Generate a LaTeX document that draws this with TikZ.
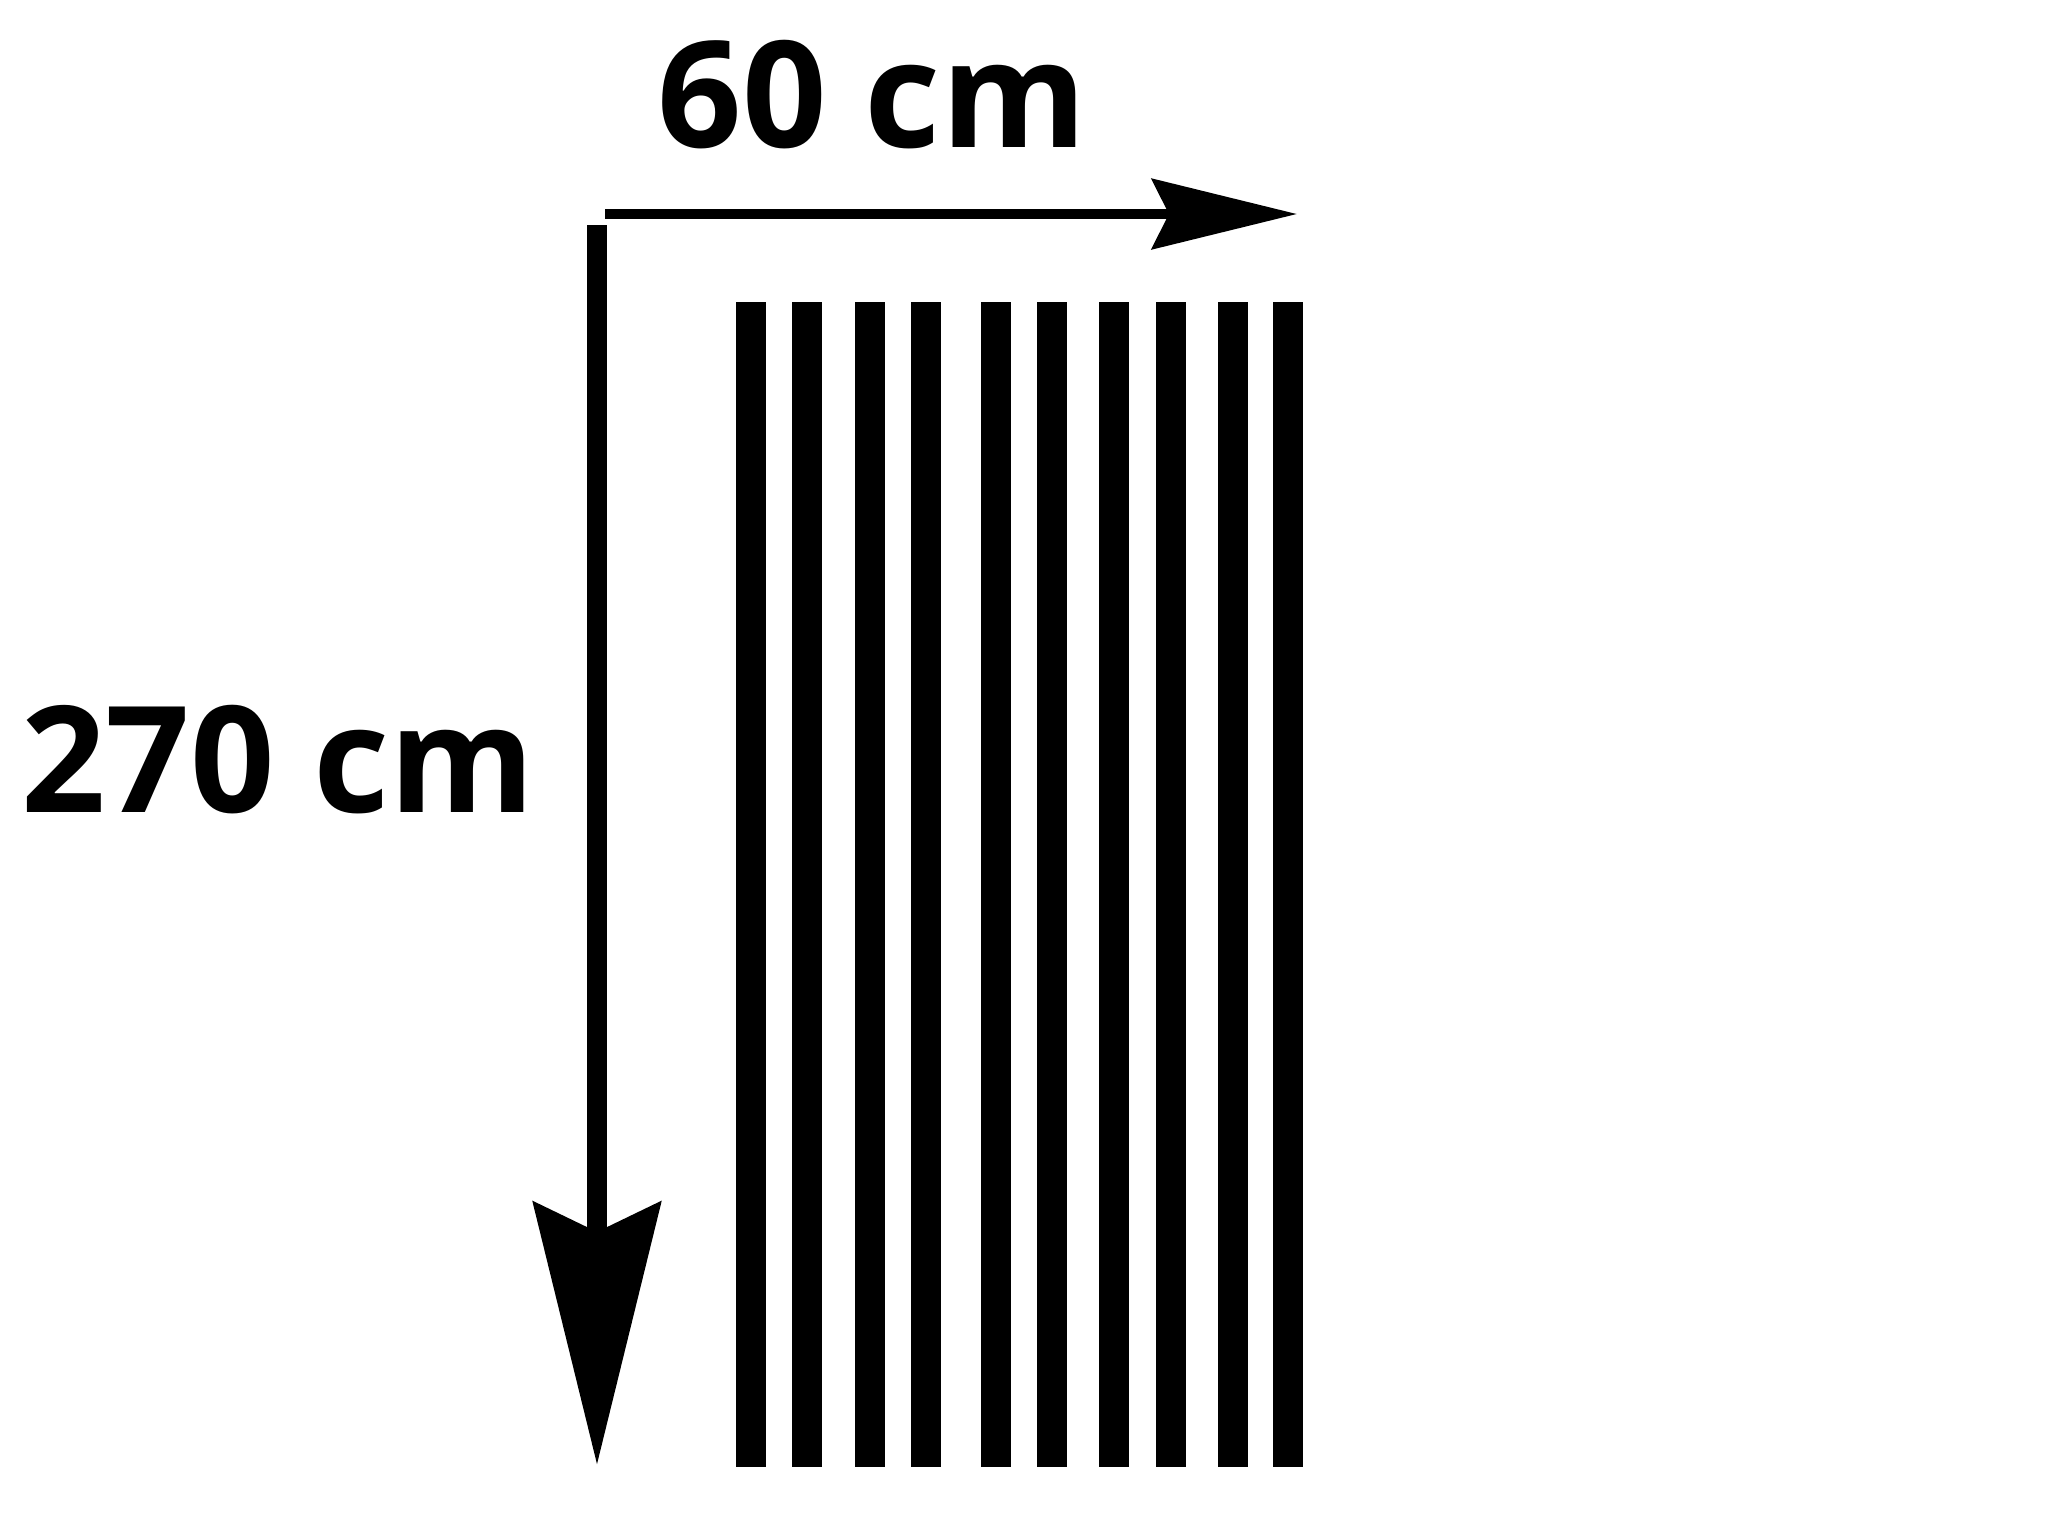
\documentclass[tikz,border=0pt]{standalone}
\usepackage{fontspec}
\setmainfont{Open Sans}
\usetikzlibrary{arrows.meta, positioning}

\tikzset{
  slat/.style={line width=7.4pt},
  label/.style={font=\fontsize{37}{44}\selectfont\bfseries, inner sep=0pt, anchor=base}
}

\begin{document}
\begin{tikzpicture}[x=0.25pt, y=-0.25pt]
\useasboundingbox (0,0) rectangle (2048,1536);

% Width arrow
\coordinate (wstart) at (605,214);
\coordinate (wend) at (1297,214);
\draw[line width=2.6pt, -{Stealth[length=36.25pt, width=17.5pt, inset=4.25pt]}] (wstart) -- (wend);
\node[label] (width) at (872,147) {60 cm};

% Height arrow
\coordinate (hstart) at (597,225);
\coordinate (hend) at (597,1465);
\draw[line width=5.2pt, -{Stealth[length=65.5pt, width=31.5pt, inset=7.25pt]}] (hstart) -- (hend);
\node[label] (height) at (278,812) {270 cm};

% Slats
\foreach \x in {751,807,870,926,996,1052,1114,1171,1233,1288} {
  \draw[slat] (\x,302) -- (\x,1467);
}
\end{tikzpicture}
\end{document}
